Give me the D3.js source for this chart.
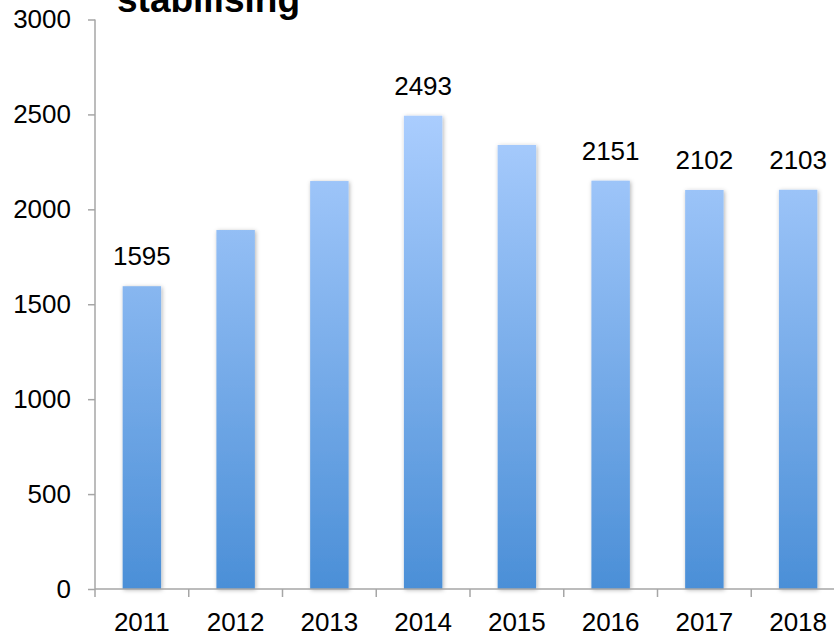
<!DOCTYPE html>
<html>
<head>
<meta charset="utf-8">
<script src="https://cdn.jsdelivr.net/npm/d3@7"></script>
<style>
  body { margin: 0; background: #fff; }
  svg { display: block; font-family: "Liberation Sans", Arial, sans-serif; }
</style>
</head>
<body>
<svg width="834" height="634"></svg>
<script>
var years = ["2011", "2012", "2013", "2014", "2015", "2016", "2017", "2018"];
var counts = [1595, 1891, 2149, 2493, 2339, 2151, 2102, 2103];
var labelled = [true, false, false, true, false, true, true, true];
var yTicks = [0, 500, 1000, 1500, 2000, 2500, 3000];

var data = years.map(function(y, i) { return {year: y, value: counts[i], show: labelled[i]}; });

var svg = d3.select("svg");

var x = d3.scaleBand()
    .domain(years)
    .range([95, 845])
    .padding(0);

var y = d3.scaleLinear()
    .domain([0, 3000])
    .range([589, 19.5]);

var defs = svg.append("defs");
var grad = defs.append("linearGradient")
    .attr("id", "barGrad")
    .attr("gradientUnits", "userSpaceOnUse")
    .attr("x1", 0).attr("x2", 0)
    .attr("y1", y(2493)).attr("y2", y(0));
grad.append("stop").attr("offset", "0%").attr("stop-color", "#aacdfe");
grad.append("stop").attr("offset", "100%").attr("stop-color", "#4b8fd7");

var shadow = defs.append("filter")
    .attr("id", "shadow")
    .attr("x", "-30%").attr("y", "-10%")
    .attr("width", "160%").attr("height", "120%");
shadow.append("feDropShadow")
    .attr("dx", 1).attr("dy", 1)
    .attr("stdDeviation", 2)
    .attr("flood-color", "#000")
    .attr("flood-opacity", 0.3);

// title (clipped at the top of the frame)
svg.append("text")
    .attr("x", 117)
    .attr("y", 12)
    .attr("font-size", 37)
    .attr("font-weight", "bold")
    .attr("fill", "#000")
    .text("stabilising");

// bars
var bw = x.bandwidth() * 0.41;
svg.selectAll(".bar")
    .data(data)
  .enter().append("rect")
    .attr("class", "bar")
    .attr("x", function(d) { return x(d.year) + (x.bandwidth() - bw) / 2; })
    .attr("y", function(d) { return y(d.value); })
    .attr("width", bw)
    .attr("height", function(d) { return y(0) - y(d.value); })
    .attr("fill", "url(#barGrad)")
    .attr("filter", "url(#shadow)");

// value labels
svg.selectAll(".val")
    .data(data.filter(function(d) { return d.show; }))
  .enter().append("text")
    .attr("class", "val")
    .attr("x", function(d) { return x(d.year) + x.bandwidth() / 2; })
    .attr("y", function(d) { return y(d.value) - 21; })
    .attr("text-anchor", "middle")
    .attr("font-size", 26)
    .attr("fill", "#000")
    .text(function(d) { return d.value; });

// y axis
var yAxis = svg.append("g")
    .attr("transform", "translate(95,0)")
    .call(d3.axisLeft(y).tickValues(yTicks).tickSize(7).tickPadding(17).tickFormat(d3.format("d")));
yAxis.select(".domain").attr("stroke", "#a6a6a6").attr("stroke-width", 1.5)
    .attr("d", "M0," + y(3000) + "V" + y(0));
yAxis.selectAll(".tick line").attr("stroke", "#a6a6a6").attr("stroke-width", 1.5);
yAxis.selectAll(".tick text").attr("font-size", 26).attr("fill", "#000")
    .attr("font-family", "'Liberation Sans', Arial, sans-serif");

// x axis
var xAxis = svg.append("g")
    .attr("transform", "translate(0," + y(0) + ")");
xAxis.append("line")
    .attr("x1", 95).attr("x2", 845)
    .attr("stroke", "#a6a6a6").attr("stroke-width", 1.5);
xAxis.selectAll(".xtick")
    .data(years.concat(["end"]))
  .enter().append("line")
    .attr("class", "xtick")
    .attr("x1", function(d, i) { return i < years.length ? x(d) : x(years[years.length - 1]) + x.bandwidth(); })
    .attr("x2", function(d, i) { return i < years.length ? x(d) : x(years[years.length - 1]) + x.bandwidth(); })
    .attr("y1", 0).attr("y2", 8)
    .attr("stroke", "#a6a6a6").attr("stroke-width", 1.5);
xAxis.selectAll(".xlab")
    .data(years)
  .enter().append("text")
    .attr("class", "xlab")
    .attr("x", function(d) { return x(d) + x.bandwidth() / 2; })
    .attr("y", 42)
    .attr("text-anchor", "middle")
    .attr("font-size", 26)
    .attr("fill", "#000")
    .text(function(d) { return d; });
</script>
</body>
</html>
